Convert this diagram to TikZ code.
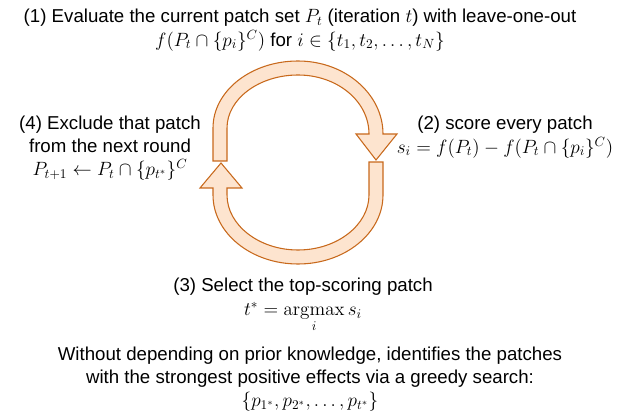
\documentclass[tikz,border=0pt]{standalone}
\usepackage{amsmath}
\usepackage[no-math]{fontspec}
\setmainfont{Liberation Sans}
\definecolor{loopfill}{HTML}{FDE4CF}
\definecolor{loopline}{HTML}{C8691C}
\tikzset{
    steptext/.style={align=center, font=\fontsize{14}{17.5}\selectfont, inner sep=0pt},
    looparrow/.style={draw=loopline, fill=loopfill, line width=0.8pt, line join=miter}
}
\begin{document}
\begin{tikzpicture}[x=0.75pt, y=-0.75pt]
    \useasboundingbox (0,0) rectangle (617,416);

    % upper half of the loop, pointing down on the right
    \draw[looparrow] (213,161) -- (213,128)
        .. controls (213,91) and (251,61) .. (298,61)
        .. controls (345,61) and (383,94) .. (383,134)
        -- (397,134) -- (376,160) -- (356,134) -- (369,134)
        .. controls (369,101) and (337,75) .. (298,75)
        .. controls (259,75) and (227,99) .. (227,128)
        -- (227,161) -- cycle;

    % lower half of the loop, pointing up on the left
    \draw[looparrow] (383,162) -- (383,195)
        .. controls (383,233) and (345,264) .. (298,264)
        .. controls (251,264) and (213,233) .. (213,195)
        -- (213,188) -- (200,188) -- (221,163) -- (242,188) -- (227,188)
        -- (227,195)
        .. controls (227,225) and (259,250) .. (298,250)
        .. controls (337,250) and (369,225) .. (369,195)
        -- (369,162) -- cycle;

    \node[steptext] (eval) at (300,30)
        {(1) Evaluate the current patch set $P_t$ (iteration $t$) with leave-one-out\\
         $f(P_t \cap \{p_i\}^C)$ for $i \in \{t_1, t_2, \dots, t_N\}$};
    \node[steptext] (score) at (505,137)
        {(2) score every patch\\
         $s_i = f(P_t) - f(P_t \cap \{p_i\}^C)$};
    \node[steptext, anchor=north] (select) at (303,278)
        {(3) Select the top-scoring patch\\
         $t^* = \mathop{\mathrm{argmax}}\limits_i s_i$};
    \node[steptext] (exclude) at (110,148)
        {(4) Exclude that patch\\
         from the next round\\
         $P_{t+1} \leftarrow P_t \cap \{p_{t^*}\}^C$};
    \node[steptext] (summary) at (310,379)
        {Without depending on prior knowledge, identifies the patches\\
         with the strongest positive effects via a greedy search:\\
         $\{p_{1^*}, p_{2^*}, \dots, p_{t^*}\}$};
\end{tikzpicture}
\end{document}
